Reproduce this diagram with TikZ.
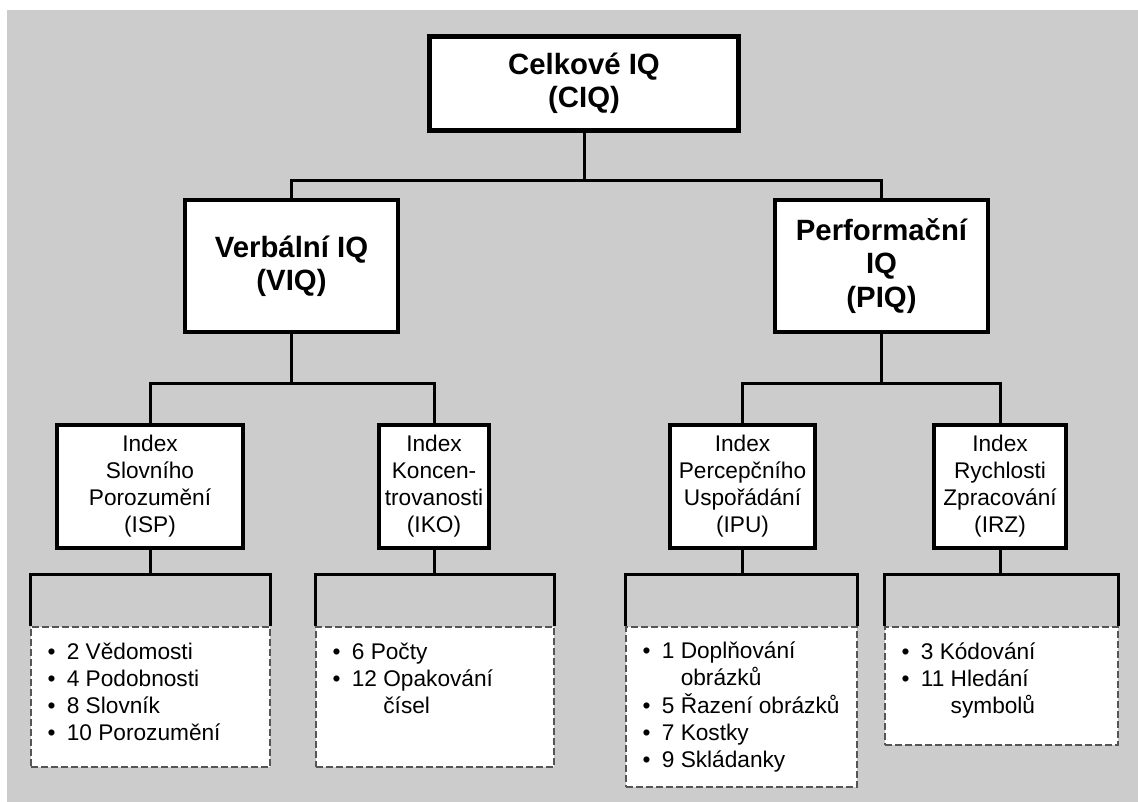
\documentclass[tikz,border=0pt]{standalone}
\usepackage{fontspec}
\setmainfont{Liberation Sans}
\usetikzlibrary{calc}
\definecolor{bggray}{HTML}{CCCCCC}
\definecolor{dashgray}{HTML}{555555}
\newcommand{\lbul}{\makebox[14.5pt][l]{\textbullet}}
\begin{document}
\begin{tikzpicture}[x=0.75pt,y=-0.75pt,
  bigbox/.style={draw=black, fill=white, line width=3pt, inner sep=0pt, align=center,
    font=\bfseries\fontsize{22}{25}\selectfont, minimum width=159.75pt, minimum height=99pt},
  idxbox/.style={draw=black, fill=white, line width=3pt, inner sep=0pt, align=center,
    font=\fontsize{17}{20.25}\selectfont, minimum height=92.25pt},
  lstbox/.style={draw=dashgray, fill=white, line width=1.1pt, dash pattern=on 5.25pt off 2.25pt, inner sep=0pt},
  lsttext/.style={anchor=north west, inner sep=0pt, font=\fontsize{17}{20.25}\selectfont},
  conn/.style={line width=2.25pt, line join=miter}]
\useasboundingbox (0,0) rectangle (1138,802);
\fill[white] (0,0) rectangle (1138,802);
\fill[bggray] (7,10) rectangle (1138,802);

% top
\node[bigbox, minimum width=231.75pt, minimum height=70.5pt, line width=3.75pt] (ciq) at (584,83.5) {Celkové IQ\\(CIQ)};
\node[bigbox] (viq) at (291.5,266) {Verbální IQ\\(VIQ)};
\node[bigbox] (piq) at (881.5,266) {Performační\\IQ\\(PIQ)};

% index boxes
\node[idxbox, minimum width=139.5pt] (isp) at (150,486.5) {Index\\Slovního\\Porozumění\\(ISP)};
\node[idxbox, minimum width=82.5pt] (iko) at (434,486.5) {Index\\Koncen-\\trovanosti\\(IKO)};
\node[idxbox, minimum width=108.75pt] (ipu) at (742.5,486.5) {Index\\Percepčního\\Uspořádání\\(IPU)};
\node[idxbox, minimum width=99pt] (irz) at (1000,486.5) {Index\\Rychlosti\\Zpracování\\(IRZ)};

% list boxes
\node[lstbox, minimum width=179.25pt, minimum height=105pt] (l1) at (150.5,697) {};
\node[lstbox, minimum width=178.5pt, minimum height=105pt] (l2) at (435,697) {};
\node[lstbox, minimum width=173.25pt, minimum height=120pt] (l3) at (741.5,707) {};
\node[lstbox, minimum width=174.75pt, minimum height=88.5pt] (l4) at (1001.5,686) {};

\node[lsttext] (t1) at ($(l1.north west)+(17,14)$) {\begin{tabular}{@{}l@{}}
\lbul 2 Vědomosti\\ \lbul 4 Podobnosti\\ \lbul 8 Slovník\\ \lbul 10 Porozumění\end{tabular}};
\node[lsttext] (t2) at ($(l2.north west)+(17,14)$) {\begin{tabular}{@{}l@{}}
\lbul 6 Počty\\ \lbul 12 Opakování\\ \hspace*{14.5pt}\phantom{12 }čísel\end{tabular}};
\node[lsttext] (t3) at ($(l3.north west)+(17,13)$) {\begin{tabular}{@{}l@{}}
\lbul 1 Doplňování\\ \hspace*{14.5pt}\phantom{1 }obrázků\\ \lbul 5 Řazení obrázků\\ \lbul 7 Kostky\\ \lbul 9 Skládanky\end{tabular}};
\node[lsttext] (t4) at ($(l4.north west)+(17,14)$) {\begin{tabular}{@{}l@{}}
\lbul 3 Kódování\\ \lbul 11 Hledání\\ \hspace*{14.5pt}\phantom{11 }symbolů\end{tabular}};

% connectors
\draw[conn] (ciq.south) -- ++(0,47.5) -| (viq.north);
\draw[conn] (ciq.south) -- ++(0,47.5) -| (piq.north);
\draw[conn] (viq.south) -- ++(0,49) -| (isp.north);
\draw[conn] (viq.south) -- ++(0,49) -| (iko.north);
\draw[conn] (piq.south) -- ++(0,49) -| (ipu.north);
\draw[conn] (piq.south) -- ++(0,49) -| (irz.north);

\draw[conn] (isp.south) |- ($(l1.north)+(0,-52)$);
\draw[conn] (l1.north west) -- ++(0,-52) -| (l1.north east);
\draw[conn] (iko.south) |- ($(l2.north)+(0,-52)$);
\draw[conn] (l2.north west) -- ++(0,-52) -| (l2.north east);
\draw[conn] (ipu.south) |- ($(l3.north)+(0,-52)$);
\draw[conn] (l3.north west) -- ++(0,-52) -| (l3.north east);
\draw[conn] (irz.south) |- ($(l4.north)+(0,-52)$);
\draw[conn] (l4.north west) -- ++(0,-52) -| (l4.north east);
\end{tikzpicture}
\end{document}
